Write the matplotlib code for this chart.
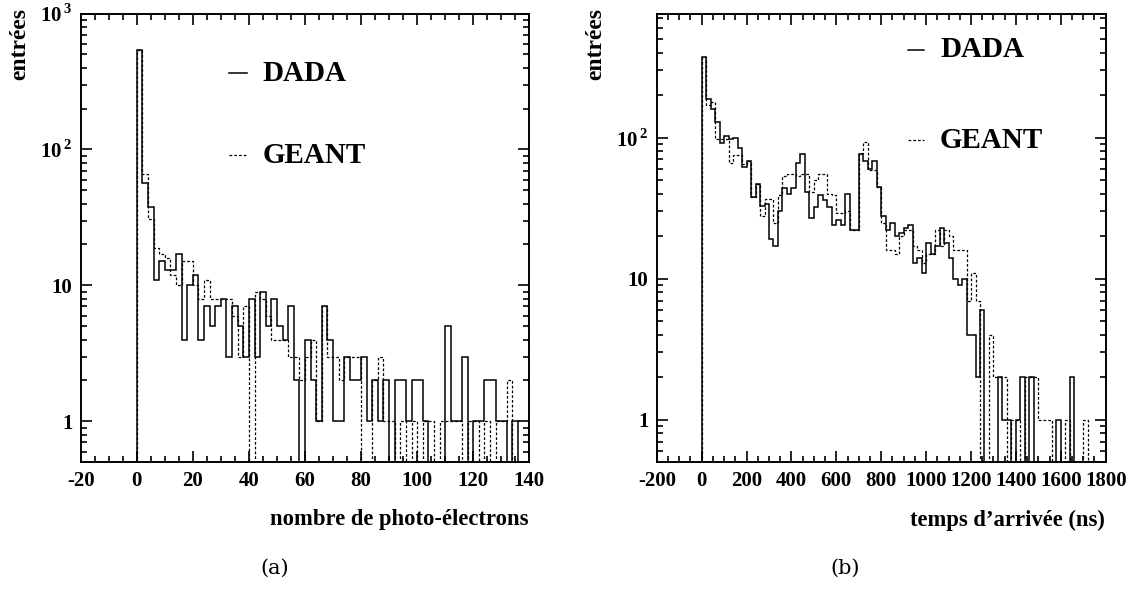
import numpy as np
import matplotlib
matplotlib.use("Agg")
import matplotlib.pyplot as plt
from matplotlib.ticker import FixedLocator, MultipleLocator, NullFormatter

plt.rcParams["font.family"] = ["Liberation Serif", "DejaVu Serif"]
plt.rcParams["mathtext.fontset"] = "custom"
plt.rcParams["mathtext.rm"] = "Liberation Serif:bold"
plt.rcParams["mathtext.bf"] = "Liberation Serif:bold"

# (a) nombre de photo-electrons, bins of width 2 from 0 to 140
pe_edges = np.arange(0, 142, 2)
dada_pe = [540, 57, 38, 11, 15, 13, 13, 17, 4, 10, 12, 4, 7, 5, 7, 8, 3, 7, 5, 3,
           8, 3, 9, 5, 8, 5, 4, 7, 2, 0, 4, 2, 1, 7, 4, 1, 1, 3, 2, 2,
           3, 1, 2, 1, 2, 0, 2, 2, 1, 2, 2, 1, 0, 0, 0, 5, 1, 1, 3, 0,
           1, 1, 2, 2, 1, 1, 0, 1, 0, 0]
geant_pe = [540, 66, 31, 19, 17, 16, 12, 10, 15, 15, 10, 8, 11, 8, 8, 8, 8, 6, 3, 7,
            0, 9, 8, 6, 4, 4, 4, 3, 3, 2, 3, 4, 1, 7, 3, 3, 2, 3, 3, 3,
            0, 0, 2, 3, 1, 1, 0, 1, 0, 1, 0, 1, 1, 0, 1, 1, 1, 1, 0, 1,
            1, 0, 1, 0, 1, 1, 2, 0, 0, 0]

# (b) temps d'arrivee, bins of 20 ns from 0 to 1720
t_edges = np.arange(0, 1740, 20)
dada_t = [374, 187, 159, 130, 92, 103, 98, 100, 85, 62, 68, 38, 47, 33, 34, 19, 17, 30, 44, 40,
          44, 66, 77, 41, 27, 32, 39, 36, 32, 24, 26, 24, 40, 22, 22, 77, 68, 60, 68, 45,
          28, 22, 25, 20, 21, 23, 24, 13, 14, 11, 18, 15, 17, 23, 18, 14, 10, 9, 10, 4,
          4, 2, 6, 0, 0, 0, 2, 1, 1, 0, 1, 2, 0, 2, 0, 0, 0, 0, 0, 1,
          0, 0, 2, 0, 0, 0]
geant_t = [370, 170, 180, 97, 97, 97, 66, 75, 75, 65, 68, 38, 47, 28, 37, 37, 25, 39, 53, 55,
           55, 53, 55, 55, 41, 50, 55, 55, 40, 39, 29, 29, 30, 22, 22, 78, 93, 59, 59, 45,
           25, 16, 16, 15, 20, 22, 22, 17, 16, 13, 15, 15, 22, 17, 22, 20, 16, 16, 16, 7,
           11, 7, 0, 0, 4, 2, 2, 2, 0, 1, 1, 0, 2, 2, 2, 1, 1, 1, 0, 0,
           0, 1, 0, 0, 0, 1]

fig = plt.figure(figsize=(11.3, 6), dpi=100)
ax1 = fig.add_axes([0.0714, 0.2295, 0.397, 0.748])
ax2 = fig.add_axes([0.5812, 0.2295, 0.3973, 0.747])

dash = (0, (2.2, 1.6))
bold = dict(fontweight="bold")


def style(ax, xlim, ylim, xmajor, xminor, yticks, ylabels):
    ax.set_yscale("log", nonpositive="clip")
    ax.set_xlim(*xlim)
    ax.set_ylim(*ylim)
    ax.xaxis.set_major_locator(MultipleLocator(xmajor))
    ax.xaxis.set_minor_locator(MultipleLocator(xminor))
    ax.xaxis.set_major_formatter(plt.FuncFormatter(lambda v, p: f"{v:.0f}"))
    ax.yaxis.set_major_locator(FixedLocator(yticks))
    ax.set_yticklabels(ylabels)
    minors = [m * 10.0 ** e for e in range(-1, 4) for m in range(2, 10)]
    ax.yaxis.set_minor_locator(FixedLocator(minors))
    ax.yaxis.set_minor_formatter(NullFormatter())
    ax.tick_params(which="both", direction="in", top=True, right=True, width=1.2)
    ax.tick_params(which="major", length=8, labelsize=15, pad=6)
    ax.tick_params(which="minor", length=4.5)
    for lbl in ax.get_xticklabels() + ax.get_yticklabels():
        lbl.set_fontweight("bold")
    for s in ax.spines.values():
        s.set_linewidth(1.4)


ax1.stairs(dada_pe, pe_edges, baseline=0, color="black", lw=1.1)
ax1.stairs(geant_pe, pe_edges, baseline=0, color="black", lw=0.9, ls=dash)
style(ax1, (-20, 140), (0.5, 1000), 20, 5, [1, 10, 100, 1000],
      ["1", "10", r"10$^{\,2}$", r"10$^{\,3}$"])

ax2.stairs(dada_t, t_edges, baseline=0, color="black", lw=1.1)
ax2.stairs(geant_t, t_edges, baseline=0, color="black", lw=0.9, ls=dash)
style(ax2, (-200, 1800), (0.5, 750), 200, 50, [1, 10, 100],
      ["1", "10", r"10$^{\,2}$"])
for lbl in ax1.get_xticklabels() + ax2.get_xticklabels():
    lbl.set_fontweight("bold")

# legends drawn by hand
ax1.plot([0.33, 0.371], [0.867, 0.867], transform=ax1.transAxes, color="black", lw=1.1)
ax1.plot([0.33, 0.371], [0.684, 0.684], transform=ax1.transAxes, color="black", lw=0.9, ls=dash)
ax1.text(0.405, 0.867, "DADA", transform=ax1.transAxes, va="center", fontsize=21, **bold)
ax1.text(0.405, 0.684, "GEANT", transform=ax1.transAxes, va="center", fontsize=21, **bold)

ax2.plot([0.56, 0.595], [0.92, 0.92], transform=ax2.transAxes, color="black", lw=1.1)
ax2.plot([0.56, 0.595], [0.719, 0.719], transform=ax2.transAxes, color="black", lw=0.9, ls=dash)
ax2.text(0.631, 0.92, "DADA", transform=ax2.transAxes, va="center", fontsize=21, **bold)
ax2.text(0.631, 0.719, "GEANT", transform=ax2.transAxes, va="center", fontsize=21, **bold)

fig.text(20 / 1130, 1 - 8 / 600, "entrées", rotation=90, ha="center", va="top", fontsize=17, **bold)
fig.text(596 / 1130, 1 - 8 / 600, "entrées", rotation=90, ha="center", va="top", fontsize=17, **bold)

fig.text(529 / 1130, 1 - 520 / 600, "nombre de photo-électrons", ha="right", va="center",
         fontsize=16.3, **bold)
fig.text(1105 / 1130, 1 - 520 / 600, "temps d\u2019arrivée (ns)", ha="right", va="center",
         fontsize=16.3, **bold)

fig.text(275 / 1130, 1 - 568 / 600, "(a)", ha="center", va="center", fontsize=15,
         family="DejaVu Serif")
fig.text(845 / 1130, 1 - 568 / 600, "(b)", ha="center", va="center", fontsize=15,
         family="DejaVu Serif")

fig.savefig("out.png", dpi=100)
